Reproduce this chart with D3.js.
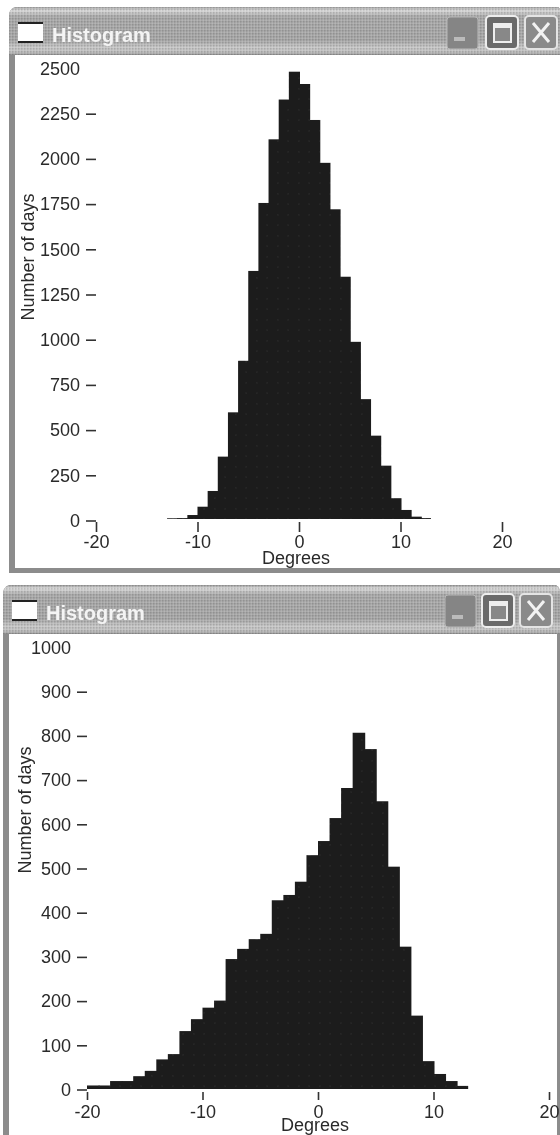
<!DOCTYPE html>
<html>
<head>
<meta charset="utf-8">
<title>Histogram</title>
<script src="https://cdn.jsdelivr.net/npm/d3@7"></script>
<style>
  html, body { margin: 0; padding: 0; background: #fff; }
  svg { display: block; }
  text { font-family: "Liberation Sans", Arial, sans-serif; }
</style>
</head>
<body>
<svg id="chart" width="560" height="1135"></svg>
<script>
// bin lower edges (degrees) and counts
const topDegrees = [-13,-12,-11,-10,-9,-8,-7,-6,-5,-4,-3,-2,-1,0,1,2,3,4,5,6,7,8,9,10,11,12];
const topDays = [4,5,22,68,155,345,590,875,1372,1748,2100,2320,2474,2406,2207,1970,1713,1340,980,663,461,295,115,50,13,5];
const topYTicks = [0,250,500,750,1000,1250,1500,1750,2000,2250,2500];

const bottomDegrees = [-20,-19,-18,-17,-16,-15,-14,-13,-12,-11,-10,-9,-8,-7,-6,-5,-4,-3,-2,-1,0,1,2,3,4,5,6,7,8,9,10,11,12];
const bottomDays = [8,8,18,18,29,41,67,79,131,158,184,200,294,317,339,351,427,439,469,529,561,613,681,806,769,651,503,322,166,63,34,18,7];
const bottomYTicks = [0,100,200,300,400,500,600,700,800,900,1000];

const xTicks = [-20,-10,0,10,20];
const windowTitle = "Histogram";
const xLabel = "Degrees";
const yLabel = "Number of days";

let svg = d3.select('#chart');
let defs = svg.append('defs');

// dither of the scanned title bar
let dither = defs.append('pattern').attr('id', 'dither')
    .attr('width', 3).attr('height', 3).attr('patternUnits', 'userSpaceOnUse');
dither.append('rect').attr('width', 1.5).attr('height', 1.5).attr('fill', '#000').attr('opacity', 0.13);
dither.append('rect').attr('x', 1.5).attr('y', 1.5).attr('width', 1.5).attr('height', 1.5).attr('fill', '#fff').attr('opacity', 0.16);

let barFill = defs.append('pattern').attr('id', 'barFill')
    .attr('width', 10.5).attr('height', 10.5).attr('patternUnits', 'userSpaceOnUse');
barFill.append('rect').attr('width', 10.5).attr('height', 10.5).attr('fill', '#1b1b1b');
barFill.append('rect').attr('x', 4).attr('y', 4).attr('width', 1.5).attr('height', 1.5).attr('fill', '#2e2e2e');

let grad = defs.append('linearGradient').attr('id', 'titleGrad')
    .attr('x1', 0).attr('x2', 0).attr('y1', 0).attr('y2', 1);
[[0, '#9a9a9a'], [0.07, '#d8d8d8'], [0.2, '#a8a8a8'], [0.7, '#a6a6a6'], [0.84, '#c6c6c6'], [0.94, '#bdbdbd'], [1, '#8e8e8e']]
    .forEach(s => grad.append('stop').attr('offset', s[0]).attr('stop-color', s[1]));

defs.append('filter').attr('id', 'soft')
    .append('feGaussianBlur').attr('stdDeviation', 0.45);

function drawWindow(w) {
    let g = svg.append('g');
    // frame
    g.append('path')
        .attr('d', `M${w.left},${w.bottom} V${w.top + 9} Q${w.left},${w.top} ${w.left + 9},${w.top} H${w.right - 6} Q${w.right},${w.top} ${w.right},${w.top + 8} V${w.bottom} Z`)
        .attr('fill', '#8c8c8c');
    g.append('rect')
        .attr('x', w.left + 6).attr('y', w.titleBottom)
        .attr('width', w.right - w.left - 6 - w.borderRight)
        .attr('height', w.bottom - w.borderBottom - w.titleBottom)
        .attr('fill', '#fff');
    // title bar
    let bar = `M${w.left},${w.titleBottom} V${w.top + 9} Q${w.left},${w.top} ${w.left + 9},${w.top} H${w.right - 6} Q${w.right},${w.top} ${w.right},${w.top + 8} V${w.titleBottom} Z`;
    g.append('path').attr('d', bar).attr('fill', 'url(#titleGrad)');
    g.append('path').attr('d', bar).attr('fill', 'url(#dither)');

    // window icon
    g.append('rect')
        .attr('x', w.left + 9).attr('y', w.top + 15).attr('width', 25).attr('height', 20)
        .attr('fill', '#fff').attr('filter', 'url(#soft)');
    g.append('path')
        .attr('d', `M${w.left + 9},${w.top + 16} H${w.left + 34} M${w.left + 9},${w.top + 35} H${w.left + 34}`)
        .attr('stroke', '#222').attr('stroke-width', 2).attr('filter', 'url(#soft)');
    g.append('text')
        .attr('x', w.left + w.titleDx).attr('y', w.top + 35)
        .attr('font-size', 20).attr('font-weight', 'bold')
        .attr('fill', '#f4f4f4').attr('filter', 'url(#soft)')
        .text(windowTitle);

    // minimise
    let bx = w.buttons;
    g.append('rect').attr('x', bx[0]).attr('y', w.top + 10).attr('width', 31).attr('height', 32).attr('rx', 3)
        .attr('fill', '#858585').attr('stroke', '#b8b8b8').attr('stroke-width', 1);
    g.append('rect').attr('x', bx[0] + 7).attr('y', w.top + 30).attr('width', 11).attr('height', 4)
        .attr('fill', '#bbb').attr('filter', 'url(#soft)');
    // maximise
    g.append('rect').attr('x', bx[1]).attr('y', w.top + 9).attr('width', 32).attr('height', 33).attr('rx', 4)
        .attr('fill', '#6a6a6a').attr('stroke', '#ededed').attr('stroke-width', 2);
    g.append('rect').attr('x', bx[1] + 8).attr('y', w.top + 17).attr('width', 17).attr('height', 18)
        .attr('fill', '#888').attr('stroke', '#eee').attr('stroke-width', 2);
    g.append('rect').attr('x', bx[1] + 8).attr('y', w.top + 17).attr('width', 17).attr('height', 4).attr('fill', '#eee');
    // close
    g.append('rect').attr('x', bx[2]).attr('y', w.top + 9).attr('width', 32).attr('height', 33).attr('rx', 4)
        .attr('fill', '#8a8a8a').attr('stroke', '#e4e4e4').attr('stroke-width', 2);
    g.append('path')
        .attr('d', `M${bx[2] + 8},${w.top + 16} L${bx[2] + 24},${w.top + 35} M${bx[2] + 24},${w.top + 16} L${bx[2] + 8},${w.top + 35}`)
        .attr('stroke', '#f2f2f2').attr('stroke-width', 3);
}

function drawHistogram(c) {
    let x = d3.scaleLinear().domain([-20, 20]).range([c.x0, c.x1]);
    let y = d3.scaleLinear().domain([0, c.yMax]).range([c.y0, c.y1]);
    let g = svg.append('g').attr('filter', 'url(#soft)');

    // bars overlap by a pixel so no seams show between neighbours
    let last = c.degrees.length - 1;
    g.selectAll('rect.bar')
        .data(c.degrees.map((d, i) => ({ from: d, days: c.days[i], i: i })))
        .join('rect')
        .attr('class', 'bar')
        .attr('x', d => x(d.from))
        .attr('width', d => x(d.from + 1) - x(d.from) + (d.i < last ? 1 : 0))
        .attr('y', d => y(d.days))
        .attr('height', d => c.y0 - y(d.days))
        .attr('fill', 'url(#barFill)');

    // plain hyphen on the labels, as in the original
    let label = d => String(d);

    let yAxis = d3.axisLeft(y).tickValues(c.yTicks).tickFormat(label)
        .tickSize(10).tickPadding(6);
    let ya = g.append('g').attr('transform', `translate(${c.x0 - c.yAxisGap},${c.yAxisDy})`).call(yAxis);
    ya.select('.domain').remove();
    ya.selectAll('line').attr('stroke', '#333').attr('stroke-width', 1.6);
    ya.selectAll('.tick').filter(d => d === c.yMax).select('line').remove();
    ya.selectAll('text').attr('font-size', 18).attr('font-family', '"Liberation Sans", Arial, sans-serif').attr('fill', '#2a2a2a');

    let xAxis = d3.axisBottom(x).tickValues(xTicks).tickFormat(label)
        .tickSize(c.xTickLen).tickPadding(c.xTickPad);
    let xa = g.append('g').attr('transform', `translate(0,${c.xAxisY})`).call(xAxis);
    xa.select('.domain').remove();
    xa.selectAll('line').attr('stroke', '#333').attr('stroke-width', 1.6);
    xa.selectAll('text').attr('font-size', 18).attr('font-family', '"Liberation Sans", Arial, sans-serif').attr('fill', '#2a2a2a');

    g.append('text')
        .attr('x', c.xLabelX).attr('y', c.xLabelY)
        .attr('text-anchor', 'middle').attr('font-size', 18).attr('fill', '#2a2a2a')
        .text(xLabel);
    g.append('text')
        .attr('transform', `translate(${c.yLabelX},${c.yLabelY}) rotate(-90)`)
        .attr('text-anchor', 'middle').attr('font-size', 18).attr('fill', '#2a2a2a')
        .text(yLabel);
}

drawWindow({ left: 9, right: 562, top: 7, titleBottom: 55, bottom: 573, borderRight: 0, borderBottom: 5, titleDx: 43, buttons: [447, 486, 525] });
drawWindow({ left: 3, right: 560, top: 585, titleBottom: 634, bottom: 1135, borderRight: 3, borderBottom: 0, titleDx: 43, buttons: [445, 482, 520] });

drawHistogram({
    degrees: topDegrees, days: topDays, yTicks: topYTicks, yMax: 2500,
    x0: 96, x1: 502, y0: 519, y1: 67,
    yAxisGap: 0, yAxisDy: 1.5, xAxisY: 522, xTickLen: 10, xTickPad: 3,
    xLabelX: 296, xLabelY: 564, yLabelX: 34, yLabelY: 257
});
drawHistogram({
    degrees: bottomDegrees, days: bottomDays, yTicks: bottomYTicks, yMax: 1000,
    x0: 87, x1: 549, y0: 1089, y1: 647,
    yAxisGap: 0, yAxisDy: 0.5, xAxisY: 1092, xTickLen: 8, xTickPad: 5,
    xLabelX: 315, xLabelY: 1131, yLabelX: 31, yLabelY: 810
});
</script>
</body>
</html>
